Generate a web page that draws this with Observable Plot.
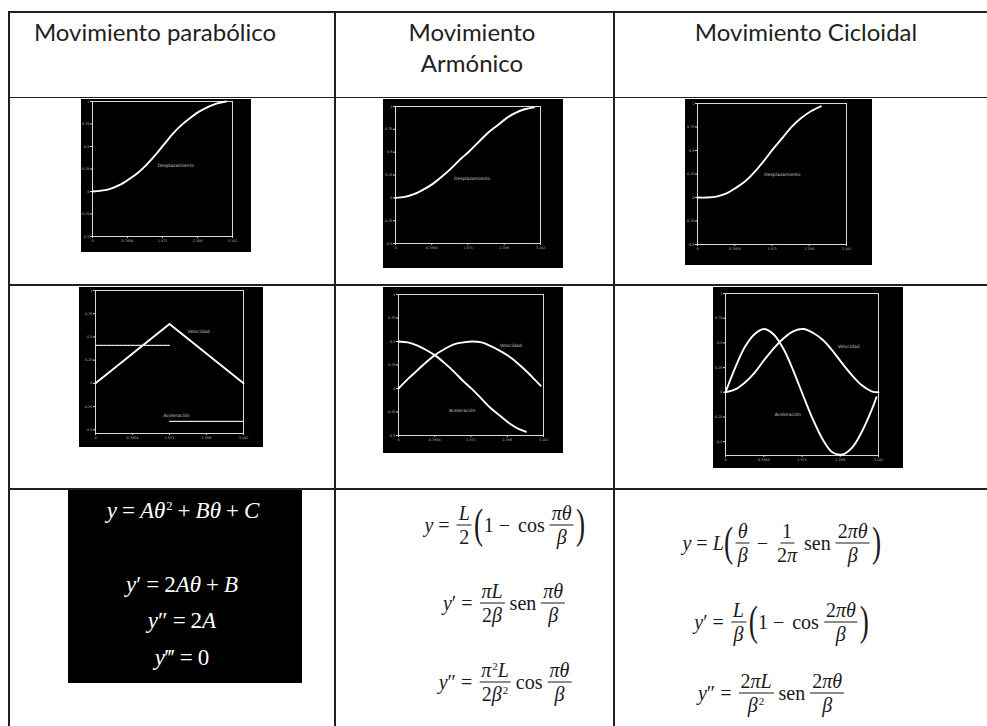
<!DOCTYPE html>
<html>
<head>
<meta charset="utf-8">
<script src="https://cdn.jsdelivr.net/npm/d3@7"></script>
<script src="https://cdn.jsdelivr.net/npm/@observablehq/plot@0.6"></script>
<style>
  html, body { margin: 0; padding: 0; background: #fff; }
  #page { position: relative; width: 987px; height: 726px; overflow: hidden; background: #fff; }
  .hl { position: absolute; background: #231f20; }
  .head { position: absolute; font-family: Lato, "Open Sans", sans-serif; font-size: 24px; color: #231f20; text-align: center; line-height: 31px; transform: translateX(-50%); white-space: nowrap; }
  .panel { position: absolute; }
  .panel svg { display: block; background: #000; }
  .eq { position: absolute; transform: translate(-50%, -50%); white-space: nowrap; font-family: "Liberation Serif", "DejaVu Serif", serif; display: flex; align-items: center; }
  .eq i { font-style: italic; }
  .sup { font-size: 0.55em; position: relative; top: -0.6em; margin-left: 1px; }
  .frac { display: inline-flex; flex-direction: column; align-items: center; vertical-align: middle; margin: 0 2px; line-height: 1.05; }
  .frac > span:first-child { border-bottom: 1.4px solid currentColor; padding: 0 2px 1px 2px; }
  .frac > span:last-child { padding: 1px 2px 0 2px; }
  .op { margin: 0 5px; }
  .paren { font-size: 2.1em; line-height: 1; display: inline-block; transform: scaleX(0.65); margin: 0 -2px; position: relative; top: -2px; }
  .fn { margin: 0 3px; }
  #blackbox { position: absolute; left: 68px; top: 490px; width: 234px; height: 193px; background: #000; }
  .w { color: #fff; font-size: 23px; }
  .k { color: #1a1a1a; font-size: 20px; }
</style>
</head>
<body>
<div id="page"></div>
<script>
// ---------- DATA ----------
const headers = ["Movimiento parabólico", "Movimiento\nArmónico", "Movimiento Cicloidal"];

const xTickValues = [0, 0.7854, 1.571, 2.356, 3.142];
const xTickLabels = ["0", "0.7854", "1.571", "2.356", "3.142"];
const yTickValues = [1, 0.75, 0.5, 0.25, 0, -0.25, -0.5];
const yTickLabels = ["1", "0.75", "0.5", "0.25", "0", "-0.25", "-0.5"];

// angle samples (rad) read along the x axis
const theta = [0, 0.2, 0.4, 0.6, 0.8, 1.0, 1.2, 1.4, 1.6, 1.8, 2.0, 2.2, 2.4, 2.6, 2.8, 3.0];

// displacement curves
const parabolicDisp = [0, 0.01, 0.03, 0.07, 0.13, 0.20, 0.29, 0.40, 0.52, 0.64, 0.74, 0.82, 0.89, 0.94, 0.98, 1.00];
const harmonicDisp  = [0, 0.01, 0.04, 0.09, 0.15, 0.23, 0.32, 0.42, 0.51, 0.61, 0.71, 0.79, 0.87, 0.93, 0.97, 0.99];
const cycloidTheta  = [0, 0.2, 0.4, 0.6, 0.8, 1.0, 1.2, 1.4, 1.6, 1.8, 2.0, 2.2, 2.4, 2.6];
const cycloidDisp   = [0, 0.00, 0.01, 0.04, 0.10, 0.17, 0.27, 0.39, 0.52, 0.64, 0.76, 0.85, 0.92, 0.97];

// parabolic velocity (triangle) and acceleration (two steps)
const parabolicVelTheta = [0, 1.571, 3.142];
const parabolicVel      = [0, 0.64, 0];
const parabolicAccTheta = [0, 1.571, 1.571, 3.12];
const parabolicAcc      = [0.41, 0.41, -0.41, -0.41];
const parabolicAccSeg   = [0, 0, 1, 1];

// harmonic velocity / acceleration
const harmonicVelTheta = [0, 0.2, 0.4, 0.6, 0.8, 1.0, 1.2, 1.4, 1.6, 1.8, 2.0, 2.2, 2.4, 2.6, 2.8, 3.0, 3.08];
const harmonicVel      = [0, 0.10, 0.19, 0.28, 0.36, 0.42, 0.47, 0.49, 0.50, 0.49, 0.45, 0.40, 0.34, 0.26, 0.17, 0.07, 0.03];
const harmonicAccTheta = [0, 0.2, 0.4, 0.6, 0.8, 1.0, 1.2, 1.4, 1.6, 1.8, 2.0, 2.2, 2.4, 2.6, 2.76];
const harmonicAcc      = [0.50, 0.49, 0.46, 0.41, 0.35, 0.27, 0.18, 0.08, -0.01, -0.11, -0.21, -0.29, -0.37, -0.43, -0.46];

// cycloidal velocity / acceleration
const cycloidVelTheta = [0, 0.2, 0.4, 0.6, 0.8, 1.0, 1.2, 1.4, 1.6, 1.8, 2.0, 2.2, 2.4, 2.6, 2.8, 3.0, 3.142];
const cycloidVel      = [0, 0.03, 0.10, 0.20, 0.33, 0.45, 0.55, 0.62, 0.64, 0.60, 0.53, 0.42, 0.29, 0.17, 0.07, 0.01, 0];
const cycloidAccTheta = [0, 0.2, 0.4, 0.6, 0.8, 1.0, 1.2, 1.4, 1.6, 1.8, 2.0, 2.2, 2.4, 2.6, 2.8, 3.0, 3.1];
const cycloidAcc      = [0, 0.25, 0.46, 0.59, 0.64, 0.58, 0.43, 0.21, -0.04, -0.28, -0.48, -0.61, -0.63, -0.56, -0.40, -0.18, -0.05];

// in-chart labels (data coordinates)
const dispLabel = "Desplazamiento", velLabel = "Velocidad", accLabel = "Aceleración";
const labelsP1 = [{x: 1.87, y: 0.29, t: dispLabel}];
const labelsP2 = [{x: 1.66, y: 0.21, t: dispLabel}];
const labelsP3 = [{x: 1.79, y: 0.24, t: dispLabel}];
const labelsP4 = [{x: 2.19, y: 0.56, t: velLabel}, {x: 1.72, y: -0.35, t: accLabel}];
const labelsP5 = [{x: 2.43, y: 0.46, t: velLabel}, {x: 1.38, y: -0.23, t: accLabel}];
const labelsP6 = [{x: 2.53, y: 0.46, t: velLabel}, {x: 1.28, y: -0.23, t: accLabel}];

// ---------- LAYOUT ----------
const page = document.getElementById("page");
function hline(x, y, w, t) { const d = document.createElement("div"); d.className = "hl"; Object.assign(d.style, {left: x + "px", top: y + "px", width: w + "px", height: t + "px"}); page.appendChild(d); }
function vline(x, y, h, t) { const d = document.createElement("div"); d.className = "hl"; Object.assign(d.style, {left: x + "px", top: y + "px", width: t + "px", height: h + "px"}); page.appendChild(d); }

hline(8, 11, 979, 2);
hline(8, 97, 979, 1.3);
hline(8, 284, 979, 2);
hline(8, 488, 979, 2);
vline(8, 11, 715, 2);
vline(334, 11, 715, 2);
vline(613, 11, 715, 2);

const headCenters = [155, 472, 806];
headers.forEach((h, i) => {
  const d = document.createElement("div");
  d.className = "head";
  d.style.left = headCenters[i] + "px";
  d.style.top = "16px";
  d.innerHTML = h.split("\n").join("<br>");
  page.appendChild(d);
});

// ---------- PANELS ----------
function panel(box, m, yDomain, series, labels) {
  const marks = [
    Plot.frame({stroke: "#d8d8d8", strokeWidth: 1}),
    Plot.axisX({ticks: xTickValues, tickFormat: d => xTickLabels[xTickValues.indexOf(d)], tickSize: 2, tickPadding: 1, fontSize: 3.4, stroke: "#cfcfcf", fill: "#bdbdbd", label: null}),
    Plot.axisY({ticks: yTickValues, tickFormat: d => yTickLabels[yTickValues.indexOf(d)], tickSize: 2, tickPadding: 1, fontSize: 3.4, stroke: "#cfcfcf", fill: "#bdbdbd", label: null})
  ];
  for (const s of series) {
    const idx = d3.range(s.x.length);
    marks.push(Plot.line(idx, {
      x: i => s.x[i], y: i => s.y[i], z: s.z ? (i => s.z[i]) : undefined,
      stroke: s.dash ? "#e6e6e6" : "#ffffff",
      strokeWidth: s.dash ? 1.2 : 1.9,
      strokeDasharray: s.dash ? "3,1" : null,
      curve: s.curve || "catmull-rom"
    }));
  }
  marks.push(Plot.text(labels, {x: "x", y: "y", text: "t", fill: "#c8c8c8", fontSize: 4.5}));
  const svg = Plot.plot({
    width: box.w, height: box.h,
    marginLeft: m[0], marginRight: m[1], marginTop: m[2], marginBottom: m[3],
    x: {domain: [0, 3.142]},
    y: {domain: yDomain},
    style: {background: "#000", color: "#ccc", fontFamily: "DejaVu Sans, sans-serif"},
    marks
  });
  const div = document.createElement("div");
  div.className = "panel";
  div.style.left = box.x + "px";
  div.style.top = box.y + "px";
  div.appendChild(svg);
  page.appendChild(div);
}

panel({x: 81, y: 99, w: 170, h: 153}, [11, 19, 2, 16], [-0.5, 1],
  [{x: theta, y: parabolicDisp}], labelsP1);
panel({x: 383, y: 99, w: 180, h: 169}, [12, 23, 7, 25], [-0.5, 1],
  [{x: theta, y: harmonicDisp}], labelsP2);
panel({x: 685, y: 99, w: 187, h: 166}, [12, 26, 4, 21], [-0.5, 1],
  [{x: cycloidTheta, y: cycloidDisp}], labelsP3);
panel({x: 79, y: 287, w: 184, h: 160}, [16, 20, 3, 14], [-0.54, 1],
  [{x: parabolicVelTheta, y: parabolicVel, curve: "linear"}, {x: parabolicAccTheta, y: parabolicAcc, z: parabolicAccSeg, dash: true, curve: "linear"}], labelsP4);
panel({x: 383, y: 287, w: 180, h: 166}, [15, 20, 7, 18], [-0.5, 1],
  [{x: harmonicVelTheta, y: harmonicVel}, {x: harmonicAccTheta, y: harmonicAcc}], labelsP5);
panel({x: 713, y: 287, w: 190, h: 181}, [12, 25, 6, 13], [-0.64, 1],
  [{x: cycloidVelTheta, y: cycloidVel}, {x: cycloidAccTheta, y: cycloidAcc}], labelsP6);

// ---------- FORMULAS ----------
const bb = document.createElement("div"); bb.id = "blackbox"; page.appendChild(bb);
const F = (n, d) => `<span class="frac"><span>${n}</span><span>${d}</span></span>`;
const P = c => `<span class="paren">${c}</span>`;
const S = t => `<span class="sup">${t}</span>`;
const eqs = [
  {cls: "w", x: 183, y: 511, html: `<span><i>y</i><span class="op">=</span><i>Aθ</i>${S("2")}<span class="op">+</span><i>Bθ</i><span class="op">+</span><i>C</i></span>`},
  {cls: "w", x: 182, y: 585, html: `<span><i>y</i>′<span class="op">=</span>2<i>Aθ</i><span class="op">+</span><i>B</i></span>`},
  {cls: "w", x: 182, y: 621, html: `<span><i>y</i>″<span class="op">=</span>2<i>A</i></span>`},
  {cls: "w", x: 182, y: 658, html: `<span><i>y</i>‴<span class="op">=</span>0</span>`},
  {cls: "k", x: 505, y: 525, html: `<i>y</i><span class="op">=</span>${F("<i>L</i>", "2")}${P("(")}1<span class="op">−</span><span class="fn">cos</span>${F("<i>πθ</i>", "<i>β</i>")}${P(")")}`},
  {cls: "k", x: 505, y: 603, html: `<i>y</i>′<span class="op">=</span>${F("<i>πL</i>", "2<i>β</i>")}<span class="fn">sen</span>${F("<i>πθ</i>", "<i>β</i>")}`},
  {cls: "k", x: 506, y: 682, html: `<i>y</i>″<span class="op">=</span>${F("<i>π</i>" + S("2") + "<i>L</i>", "2<i>β</i>" + S("2"))}<span class="fn">cos</span>${F("<i>πθ</i>", "<i>β</i>")}`},
  {cls: "k", x: 782, y: 543, html: `<i>y</i><span class="op">=</span><i>L</i>${P("(")}${F("<i>θ</i>", "<i>β</i>")}<span class="op">−</span>${F("1", "2<i>π</i>")}<span class="fn">sen</span>${F("2<i>πθ</i>", "<i>β</i>")}${P(")")}`},
  {cls: "k", x: 782, y: 622, html: `<i>y</i>′<span class="op">=</span>${F("<i>L</i>", "<i>β</i>")}${P("(")}1<span class="op">−</span><span class="fn">cos</span>${F("2<i>πθ</i>", "<i>β</i>")}${P(")")}`},
  {cls: "k", x: 772, y: 693, html: `<i>y</i>″<span class="op">=</span>${F("2<i>πL</i>", "<i>β</i>" + S("2"))}<span class="fn">sen</span>${F("2<i>πθ</i>", "<i>β</i>")}`}
];
for (const e of eqs) {
  const d = document.createElement("div");
  d.className = "eq " + e.cls;
  d.style.left = e.x + "px";
  d.style.top = e.y + "px";
  d.innerHTML = e.html;
  page.appendChild(d);
}
</script>
</body>
</html>
